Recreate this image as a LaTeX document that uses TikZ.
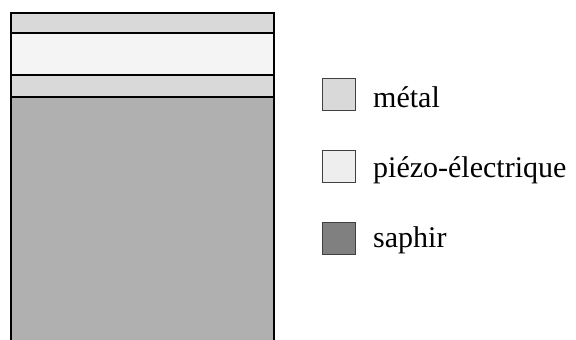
\documentclass[tikz,border=0pt]{standalone}
\usepackage{fontspec}
\setmainfont{Liberation Serif}
\definecolor{metal}{HTML}{D9D9D9}
\definecolor{piezo}{HTML}{F4F4F4}
\definecolor{saph}{HTML}{B0B0B0}
\definecolor{saphleg}{HTML}{808080}
\definecolor{piezoleg}{HTML}{EEEEEE}
\tikzset{
  layer/.style={draw=black, line width=2pt},
  legbox/.style={draw=black!75, line width=1pt, minimum width=33pt, minimum height=32pt, inner sep=0pt, anchor=north west},
  legtext/.style={anchor=base west, inner sep=0pt, font=\fontsize{30pt}{36pt}\selectfont}
}
\begin{document}
\begin{tikzpicture}[x=1pt,y=-1pt]
\useasboundingbox (0,0) rectangle (576,340);
% layers
\fill[saph] (10.5,97) rectangle (273.5,341);
\fill[metal] (10.5,13) rectangle (273.5,33);
\fill[piezo] (10.5,33) rectangle (273.5,75);
\fill[metal] (10.5,75) rectangle (273.5,97);
\draw[layer] (10.5,342) -- (10.5,13) -- (273.5,13) -- (273.5,342);
\draw[layer] (10.5,33) -- (273.5,33);
\draw[layer] (10.5,75) -- (273.5,75);
\draw[layer] (10.5,97) -- (273.5,97);
% legend
\node[legbox, fill=metal] (lm) at (322,78) {};
\node[legbox, fill=piezoleg] (lp) at (322,150) {};
\node[legbox, fill=saphleg] (ls) at (322,222) {};
\node[legtext] (tm) at (373,107) {métal};
\node[legtext] (tp) at (373,177) {piézo-électrique};
\node[legtext] (ts) at (373,247) {saphir};
\end{tikzpicture}
\end{document}
